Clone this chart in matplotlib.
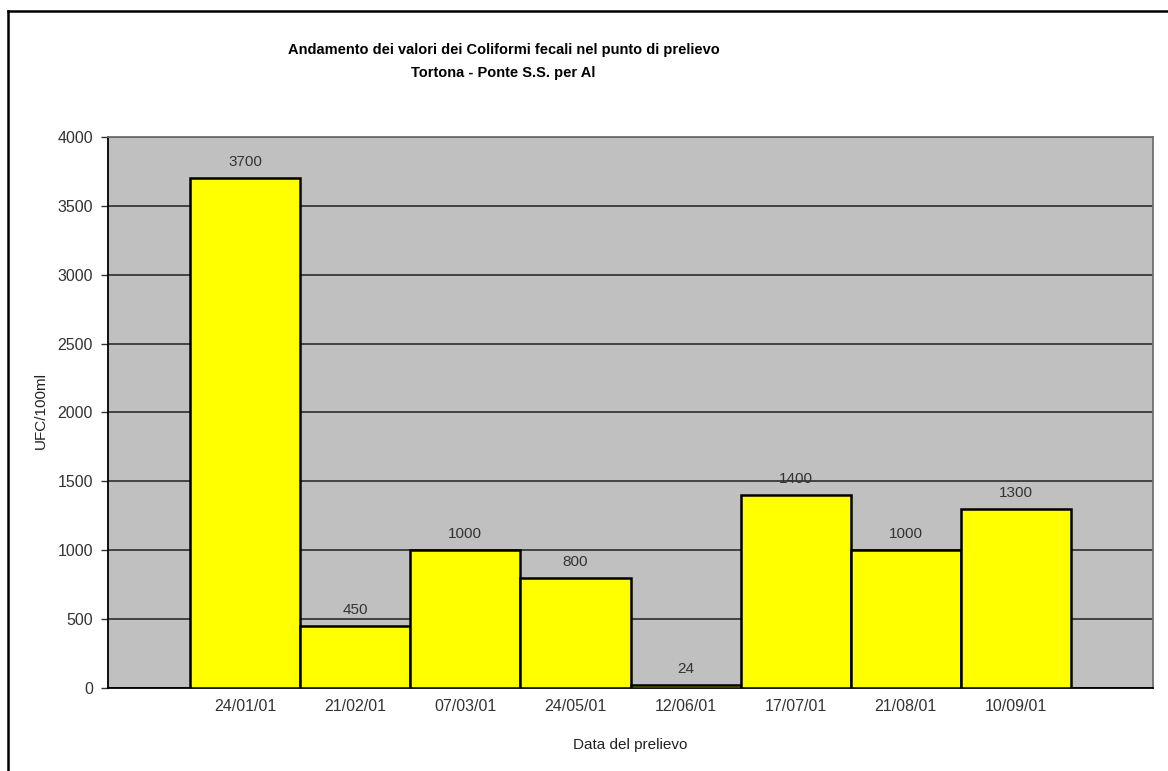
import matplotlib.pyplot as plt
from matplotlib.lines import Line2D

# Coliformi fecali - Tortona, Ponte S.S. per Al
dates = ['24/01/01', '21/02/01', '07/03/01', '24/05/01',
         '12/06/01', '17/07/01', '21/08/01', '10/09/01']
values = [3700, 450, 1000, 800, 24, 1400, 1000, 1300]
yticks = [0, 500, 1000, 1500, 2000, 2500, 3000, 3500, 4000]

plt.rcParams['font.family'] = ['Liberation Sans', 'DejaVu Sans']

fig = plt.figure(figsize=(11.68, 7.71), dpi=100)
ax = fig.add_axes([0.0925, 0.1077, 0.8947, 0.7146])
ax.set_facecolor('#c0c0c0')

x = list(range(len(dates)))
bars = ax.bar(x, values, width=1.0, color='#ffff00', edgecolor='black',
              linewidth=1.8, zorder=3)

for xi, v in zip(x, values):
    ax.annotate(str(v), (xi, v), xytext=(0, 6.5), textcoords='offset points',
                ha='center', va='bottom', fontsize=11, color='#333333')

ax.set_xlim(-0.5 - 0.745, len(dates) - 0.5 + 0.745)
ax.set_ylim(0, 4000)
ax.set_yticks(yticks)
ax.set_yticklabels([str(t) for t in yticks], fontsize=11.5, color='#333333')
ax.set_xticks(x)
ax.set_xticklabels(dates, fontsize=11.5, color='#333333')
ax.tick_params(axis='x', length=0, pad=8)
ax.tick_params(axis='y', length=5, width=1, color='#333333', pad=6)

ax.yaxis.grid(True, color='#383838', linewidth=1.3, zorder=1)
ax.set_axisbelow(True)

for side in ['left', 'bottom']:
    ax.spines[side].set_color('black')
    ax.spines[side].set_linewidth(1.3)
for side in ['top', 'right']:
    ax.spines[side].set_color('#707070')
    ax.spines[side].set_linewidth(1.3)

ax.set_xlabel('Data del prelievo', fontsize=11, color='#222222', labelpad=17)
fig.text(0.035, 0.468, 'UFC/100ml', rotation=90, fontsize=11,
         color='#222222', ha='center', va='center')

fig.text(0.431, 0.935, 'Andamento dei valori dei Coliformi fecali nel punto di prelievo',
         fontsize=10.5, fontweight='bold', ha='center', va='center')
fig.text(0.431, 0.905, 'Tortona - Ponte S.S. per Al',
         fontsize=10.5, fontweight='bold', ha='center', va='center')

# outer frame (left and top edges)
fig.add_artist(Line2D([8 / 1168, 8 / 1168], [0, 1 - 11 / 771],
                      transform=fig.transFigure, color='black', linewidth=1.8))
fig.add_artist(Line2D([8 / 1168, 1], [1 - 11 / 771, 1 - 11 / 771],
                      transform=fig.transFigure, color='black', linewidth=1.8))

fig.savefig('out.png', dpi=100)
